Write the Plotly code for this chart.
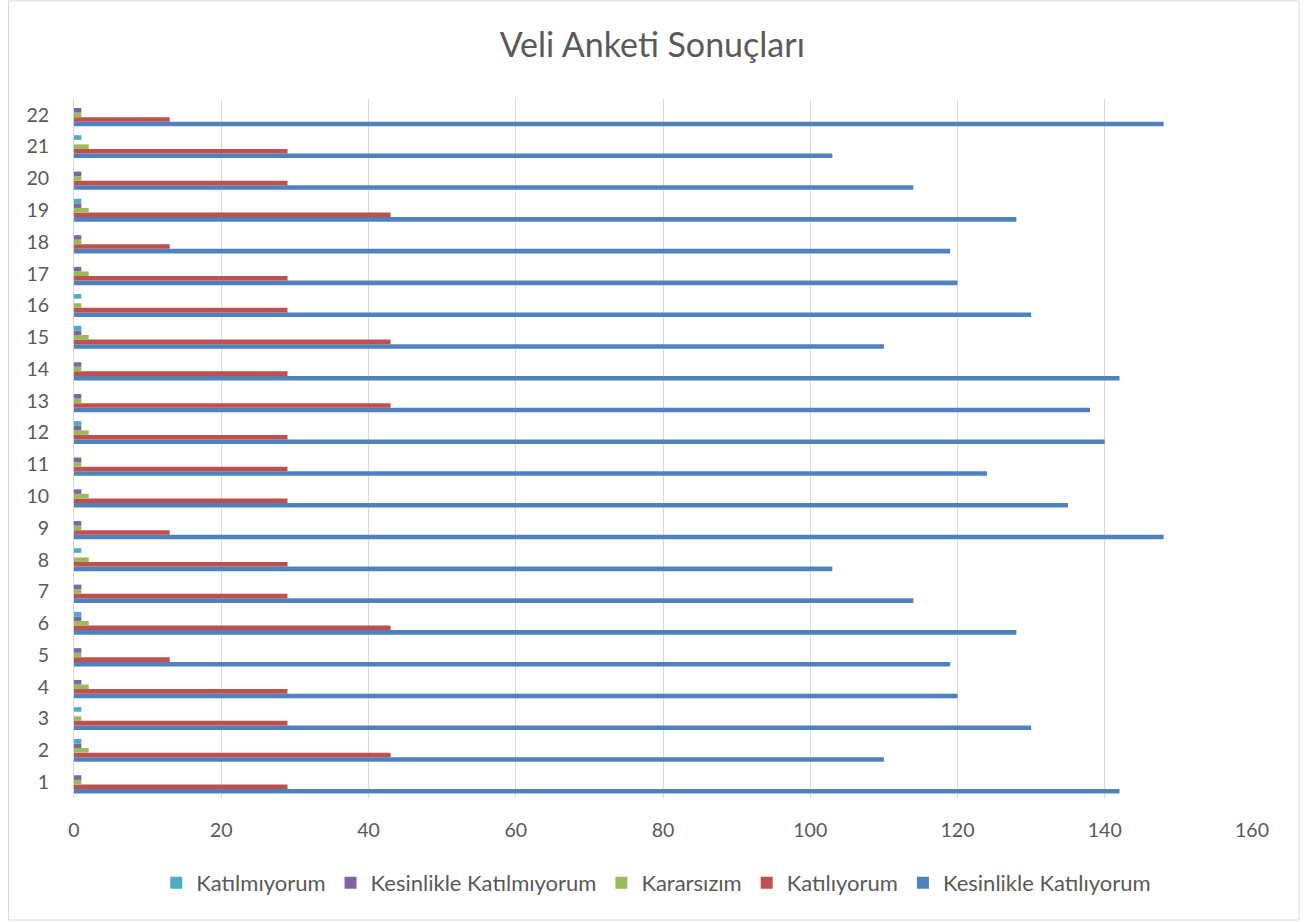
import plotly.graph_objects as go

categories = [str(i) for i in range(1, 23)]
kesinlikle_katiliyorum = [142, 110, 130, 120, 119, 128, 114, 103, 148, 135, 124,
                          140, 138, 142, 110, 130, 120, 119, 128, 114, 103, 148]
katiliyorum = [29, 43, 29, 29, 13, 43, 29, 29, 13, 29, 29,
               29, 43, 29, 43, 29, 29, 13, 43, 29, 29, 13]
kararsizim = [1, 2, 1, 2, 1, 2, 1, 2, 1, 2, 1,
              2, 1, 1, 2, 1, 2, 1, 2, 1, 2, 1]
kesinlikle_katilmiyorum = [1, 1, 0, 1, 1, 1, 1, 0, 1, 1, 1,
                           1, 1, 1, 1, 0, 1, 1, 1, 1, 0, 1]
katilmiyorum = [0, 1, 1, 0, 0, 1, 0, 1, 0, 0, 0,
                1, 0, 0, 1, 1, 0, 0, 1, 0, 1, 0]
x_ticks = [0, 20, 40, 60, 80, 100, 120, 140, 160]

series = [
    ("Kesinlikle Katılıyorum", kesinlikle_katiliyorum, "#4F81BD"),
    ("Katılıyorum", katiliyorum, "#C0504D"),
    ("Kararsızım", kararsizim, "#9BBB59"),
    ("Kesinlikle Katılmıyorum", kesinlikle_katilmiyorum, "#8064A2"),
    ("Katılmıyorum", katilmiyorum, "#4BACC6"),
]

FONT = "Lato"
TXT = "#595959"

fig = go.Figure()
for name, vals, col in series:
    fig.add_trace(go.Bar(
        y=categories, x=vals, name=name, orientation="h",
        marker=dict(color=col, line=dict(width=0)),
    ))

W, H = 1315, 922
L, R, T, B = 73.5, 63, 99, 124
pw, ph = W - L - R, H - T - B

def px(x):
    return (x - L) / pw

def py(y):
    return (H - B - y) / ph

fig.update_layout(
    width=W, height=H,
    margin=dict(l=L, r=R, t=T, b=B),
    paper_bgcolor="white", plot_bgcolor="white",
    barmode="group", bargap=0.28, bargroupgap=0,
    font=dict(family=FONT, color=TXT, size=19),
    title=dict(text="Veli Anketi Sonuçları", x=0.496, xanchor="center",
               y=1 - 45 / H, yanchor="middle",
               font=dict(family=FONT, size=34, color=TXT)),
    xaxis=dict(range=[0, 160], tickvals=x_ticks, showgrid=True,
               gridcolor="#D9D9D9", gridwidth=1, zeroline=False,
               showline=False, ticks="", ticklabelstandoff=18,
               tickfont=dict(size=19.5, color=TXT, family=FONT)),
    yaxis=dict(type="category", categoryorder="array", categoryarray=categories,
               showgrid=False, showline=True, linecolor="#D9D9D9", linewidth=1,
               ticks="", ticklabelstandoff=20,
               tickfont=dict(size=19.5, color=TXT, family=FONT)),
    legend=dict(orientation="h", traceorder="reversed", x=px(656), xanchor="center",
                y=py(883), yanchor="middle",
                font=dict(size=22, color=TXT, family=FONT),
                itemwidth=30, tracegroupgap=0),
    showlegend=True,
    shapes=[dict(type="rect", xref="paper", yref="paper",
                 x0=px(8), x1=px(1299), y0=py(920), y1=py(1),
                 line=dict(color="#D9D9D9", width=1), fillcolor="rgba(0,0,0,0)",
                 layer="below")],
)

fig.write_html("out.html",
               config={"displayModeBar": False},
               post_script="document.body.style.margin='0';document.body.style.overflow='hidden';")
